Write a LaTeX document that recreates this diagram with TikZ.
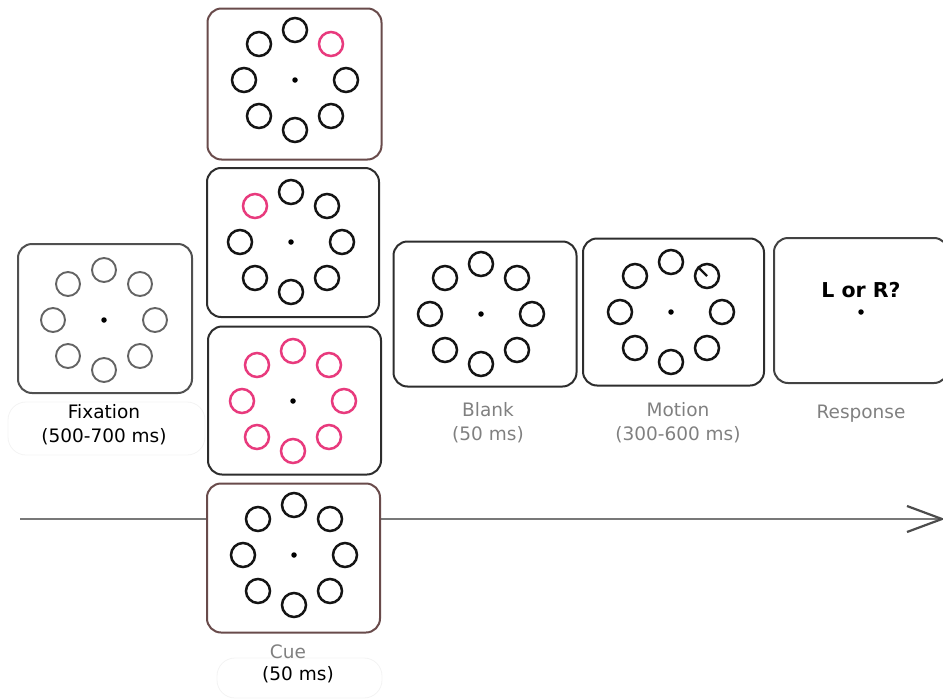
\documentclass[tikz,border=0pt]{standalone}
\usepackage{fontspec}
\setmainfont{DejaVu Sans}
\definecolor{cuepink}{RGB}{232,58,125}
\definecolor{brownframe}{RGB}{105,75,75}
\definecolor{darkframe}{RGB}{45,45,45}
\definecolor{fixframe}{RGB}{80,80,80}
\definecolor{fixring}{RGB}{100,100,100}
\definecolor{ringblack}{RGB}{20,20,20}
\definecolor{labelgray}{RGB}{128,128,128}
\definecolor{linegray}{RGB}{120,120,120}
\definecolor{ghostgray}{RGB}{243,243,243}
\newcommand\stimring[4]{%
  \foreach \k/\dx/\dy in {1/0/-50,2/36/-36,3/51/0,4/36/36,5/0/50,6/-36/36,7/-51/0,8/-36/-36}{%
    \ifnum\k=#3\relax\def\rc{cuepink}\else\ifnum#3=9\relax\def\rc{cuepink}\else\def\rc{#4}\fi\fi
    \node[ring=\rc] (#1-\k) at ([shift={(\dx,\dy)}]#2) {};
  }%
  \node[fixdot] (#1-dot) at (#2) {};
}
\begin{document}
\begin{tikzpicture}[x=1pt,y=-1pt,
  frame/.style={draw=#1, line width=2pt, rounded corners=14pt, fill=white, inner sep=0pt},
  ring/.style={circle, draw=#1, line width=2.5pt, minimum size=24pt, inner sep=0pt},
  fixdot/.style={circle, fill=black, minimum size=5.5pt, inner sep=0pt},
  lbl/.style={font=\fontsize{18.5}{22}\selectfont, text=#1, inner sep=0pt},
  ghost/.style={draw=ghostgray, rounded corners=18pt, line width=0.8pt, inner sep=0pt},
  tl/.style={draw=linegray, line width=1.7pt},
]
\useasboundingbox (0,0) rectangle (943,699);

% timeline
\coordinate (tstart) at (20,519);
\coordinate (tend) at (942,519);
\draw[tl] (tstart) -- (tend);
\draw[draw=darkframe!85, line width=2.2pt] ([shift={(-35,-13)}]tend) -- (tend) -- ([shift={(-35,13)}]tend);

% fixation
\node[ghost, minimum width=197pt, minimum height=53pt] (fixghost) at (106.5,428.5) {};
\node[frame=fixframe, minimum width=174pt, minimum height=149pt] (fixbox) at (105,318.5) {};
\coordinate (fixc) at (104,320);
\begin{scope}[ring/.append style={line width=1.9pt}]
\stimring{fx}{fixc}{0}{fixring}
\end{scope}
\node[lbl=black] (fixlbl1) at (104,412) {Fixation};
\node[lbl=black] (fixlbl2) at (104,437) {(500-700 ms)};

% cue column
\node[frame=brownframe, minimum width=174pt, minimum height=151pt] (cue1) at (294.5,84) {};
\coordinate (cue1c) at (295,80);
\stimring{ca}{cue1c}{2}{ringblack}

\node[frame=darkframe, minimum width=172pt, minimum height=149pt] (cue2) at (293,242.5) {};
\coordinate (cue2c) at (291,242);
\stimring{cb}{cue2c}{8}{ringblack}

\node[frame=darkframe, minimum width=173pt, minimum height=148pt] (cue3) at (294.5,400.5) {};
\coordinate (cue3c) at (293,401);
\stimring{cc}{cue3c}{9}{ringblack}

\node[frame=brownframe, minimum width=173pt, minimum height=149pt] (cue4) at (293.5,558) {};
\coordinate (cue4c) at (294,555);
\stimring{cd}{cue4c}{0}{ringblack}

\node[ghost, minimum width=165pt, minimum height=40pt] (cueghost) at (299.5,678) {};
\node[lbl=labelgray] (cuelbl1) at (288,652) {Cue};
\node[lbl=black] (cuelbl2) at (298,675) {(50 ms)};

% blank
\node[frame=darkframe, minimum width=183pt, minimum height=145pt] (blank) at (485,314) {};
\coordinate (blankc) at (481,314);
\stimring{bl}{blankc}{0}{ringblack}
\node[lbl=labelgray] (blanklbl1) at (488,410) {Blank};
\node[lbl=labelgray] (blanklbl2) at (488,435) {(50 ms)};

% motion
\node[frame=darkframe, minimum width=181pt, minimum height=147pt] (motion) at (673.5,312) {};
\coordinate (motionc) at (671,312);
\stimring{mo}{motionc}{0}{ringblack}
\draw[draw=ringblack, line width=2.3pt] (mo-2.center) -- (mo-2.135);
\node[lbl=labelgray] (motionlbl1) at (678,410) {Motion};
\node[lbl=labelgray] (motionlbl2) at (678,435) {(300-600 ms)};

% response
\node[frame=darkframe!90, minimum width=174pt, minimum height=145pt] (resp) at (861,310.5) {};
\node[font=\fontsize{20.5}{24}\selectfont\bfseries, inner sep=0pt] (lorr) at (861,290) {L or R?};
\node[fixdot] (respdot) at (861,312) {};
\node[lbl=labelgray] (resplbl) at (861,414) {Response};
\end{tikzpicture}
\end{document}
